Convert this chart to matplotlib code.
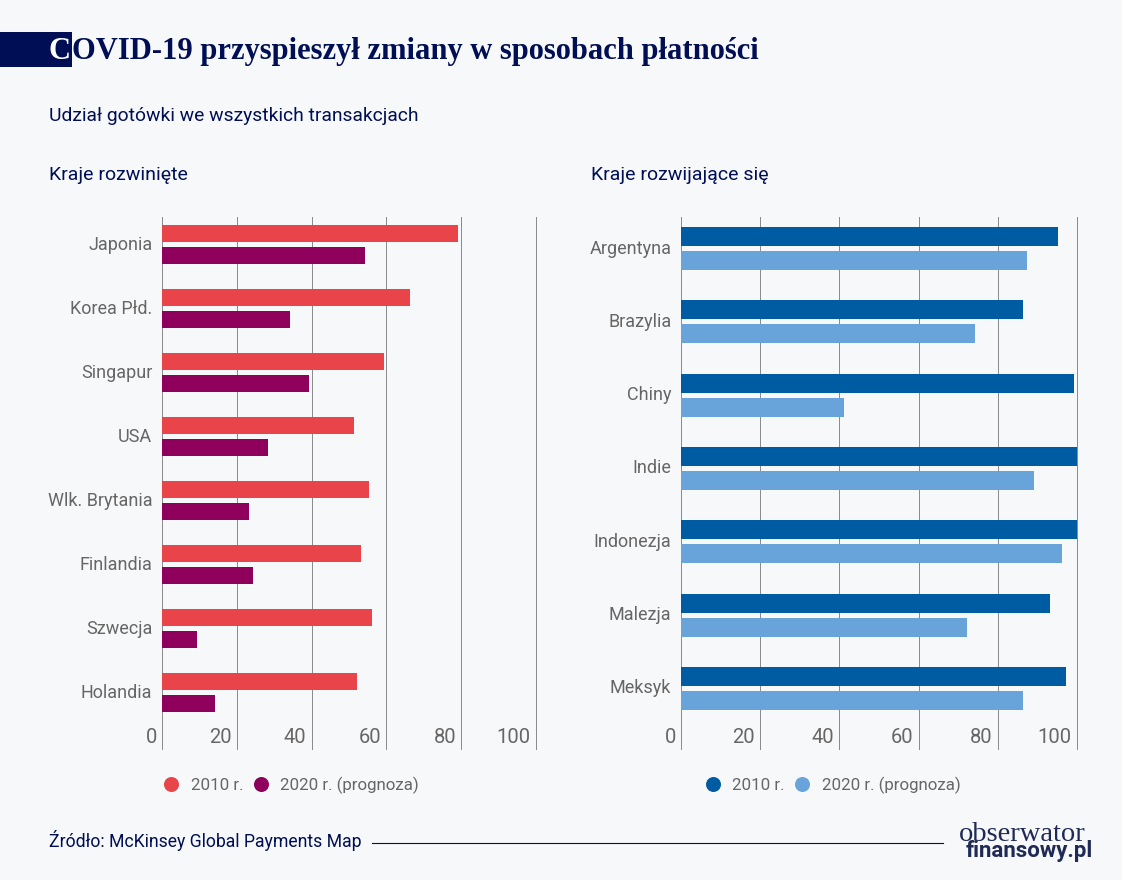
import matplotlib
matplotlib.use("Agg")
import matplotlib.pyplot as plt
from matplotlib.patches import Rectangle
from matplotlib.lines import Line2D
from matplotlib.transforms import ScaledTranslation
import numpy as np

W, H = 1122, 880
BG = "#F7F8FA"; NAVY = "#000F55"; GREY = "#666666"; GRID = "#8C8C8C"
SANS = "Roboto"

dev_countries = ["Japonia", "Korea Płd.", "Singapur", "USA", "Wlk. Brytania", "Finlandia", "Szwecja", "Holandia"]
dev_2010 = [79.2, 66.3, 59.4, 51.3, 55.3, 53.2, 56.1, 52.2]
dev_2020 = [54.3, 34.2, 39.3, 28.3, 23.2, 24.3, 9.3, 14.2]

emg_countries = ["Argentyna", "Brazylia", "Chiny", "Indie", "Indonezja", "Malezja", "Meksyk"]
emg_2010 = [95.2, 86.4, 99.2, 100, 100, 93.2, 97.2]
emg_2020 = [87.4, 74.2, 41.2, 89.2, 96.2, 72.2, 86.4]

ticks = [0, 20, 40, 60, 80, 100]

fig = plt.figure(figsize=(W / 100, H / 100), dpi=100, facecolor=BG)

def px(x, y):
    return x / W, 1 - y / H

def axes_px(l, t, r, b):
    ax = fig.add_axes([l / W, 1 - b / H, (r - l) / W, (b - t) / H])
    ax.set_facecolor("none")
    return ax

def panel(l, r, t, b, cats, a, c, col_a, col_c, first, step, off, bh, xmax, leg_x, leg_labels):
    ax = axes_px(l, t, r, b)
    y = np.arange(len(cats))
    ax.set_xlim(0, xmax)
    ax.set_ylim((b - first) / step, (t - first) / step)
    ax.barh(y - off / step, a, height=bh / step, color=col_a, zorder=3)
    ax.barh(y + off / step, c, height=bh / step, color=col_c, zorder=3)
    for s in ax.spines.values():
        s.set_visible(False)
    ax.set_xticks(ticks)
    ax.tick_params(axis="both", length=0)
    ax.set_xticklabels([])
    ax.grid(axis="x", color=GRID, lw=0.72, zorder=1)
    ax.set_axisbelow(True)
    ax.set_yticks(y)
    ax.set_yticklabels(cats, fontsize=13, color=GREY, family=SANS)
    ax.tick_params(axis="y", pad=7)
    shift = ScaledTranslation(0, 2 / 100, fig.dpi_scale_trans)
    for lab in ax.get_yticklabels():
        lab.set_transform(lab.get_transform() + shift)
    for tv in ticks:
        ax.annotate(str(tv), (tv, 0), xycoords=("data", "axes fraction"), xytext=(-5, 3),
                    textcoords="offset pixels", ha="right", va="bottom",
                    fontsize=14.5, color=GREY, family=SANS)
    handles = [Line2D([], [], ls="", marker="o", ms=10.8, mec="none", color=col_a),
               Line2D([], [], ls="", marker="o", ms=10.8, mec="none", color=col_c)]
    fig.legend(handles, leg_labels, loc="center left", bbox_to_anchor=px(leg_x, 785), ncol=2,
               frameon=False, handletextpad=0.55, columnspacing=0.45, borderpad=0, borderaxespad=0,
               handlelength=1.2, prop={"family": SANS, "size": 12.2}, labelcolor=GREY)
    return ax

panel(162, 539.5, 217, 750, dev_countries, dev_2010, dev_2020, "#E8444A", "#8E005C",
      244.5, 64, 11, 17.5, 101, 161, ["2010 r.", "2020 r. (prognoza)"])
panel(681, 1080.5, 217, 750, emg_countries, emg_2010, emg_2020, "#005CA2", "#68A4DA",
      248.5, 73.3, 12, 19, 100.9, 702.5, ["2010 r.", "2020 r. (prognoza)"])

fig.add_artist(Rectangle(px(0, 67), 72 / W, 35 / H, transform=fig.transFigure, color=NAVY, lw=0))
fig.text(*px(49, 59), "C", color="white", fontsize=22, family="Liberation Serif", weight="bold", va="baseline")
fig.text(*px(72, 59), "OVID-19 przyspieszył zmiany w sposobach płatności", color=NAVY, fontsize=22,
         family="Liberation Serif", weight="bold", va="baseline")
fig.text(*px(49, 121), "Udział gotówki we wszystkich transakcjach", color=NAVY, fontsize=13.9, family=SANS, va="baseline")
fig.text(*px(49, 180), "Kraje rozwinięte", color=NAVY, fontsize=14, family=SANS, va="baseline")
fig.text(*px(591, 180), "Kraje rozwijające się", color=NAVY, fontsize=14, family=SANS, va="baseline")
fig.text(*px(49, 847), "Źródło: McKinsey Global Payments Map", color=NAVY, fontsize=12.7, family=SANS, va="baseline")
fig.add_artist(Line2D([372 / W, 943 / W], [1 - 843 / H] * 2, color=NAVY, lw=0.8, transform=fig.transFigure))
fig.text(*px(959, 841), "obserwator", color="#1F2A55", fontsize=20.5, family="Liberation Serif", va="baseline")
fig.text(*px(966, 857), "finansowy.pl", color="#1F2A55", fontsize=16, family="Roboto", weight="bold", va="baseline")

fig.savefig("out.png", dpi=100, facecolor=BG)
